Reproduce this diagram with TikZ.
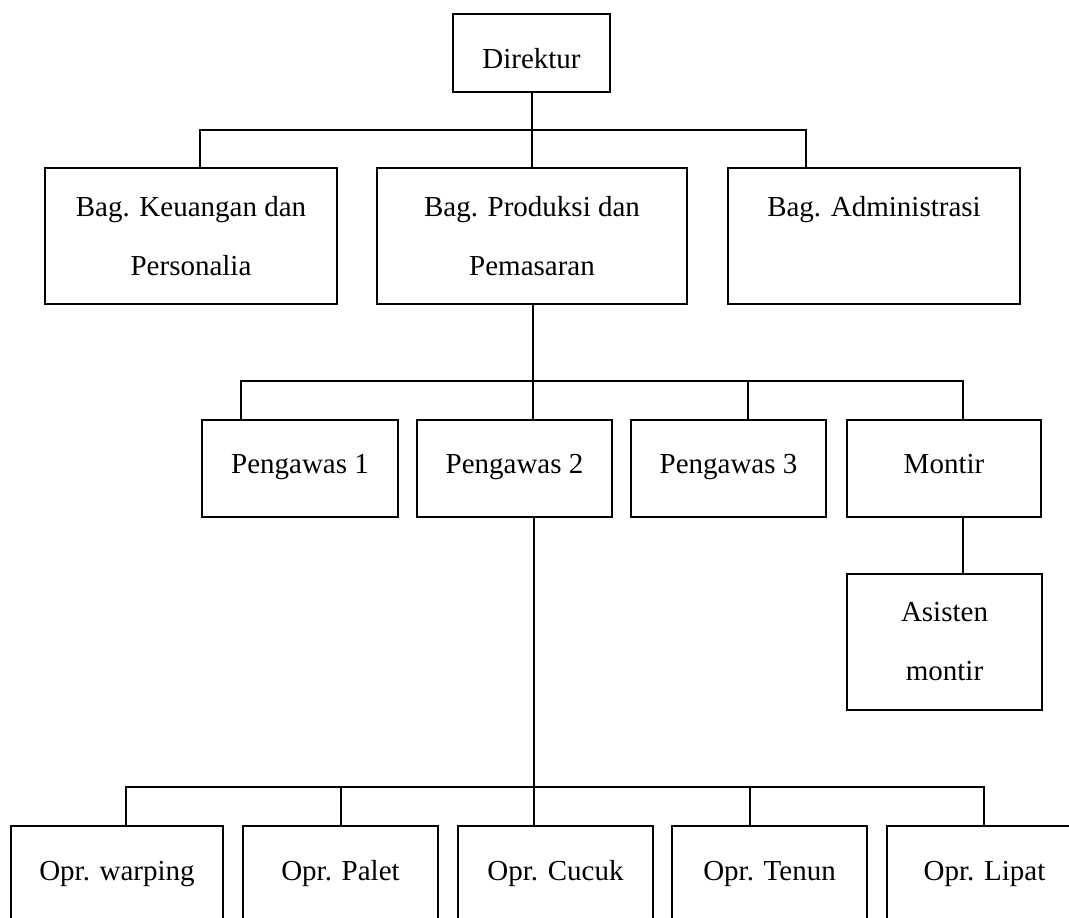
\documentclass[tikz,border=0pt]{standalone}
\usepackage{fontspec}
\setmainfont{Liberation Serif}
\usetikzlibrary{positioning}
\tikzset{
  box/.style={draw, line width=1.5pt, inner sep=0pt, align=center,
    font=\fontsize{29}{59}\selectfont},
  oneline/.style={text height=#1, text depth=7pt},
  conn/.style={line width=1.5pt}
}
\begin{document}
\begin{tikzpicture}[x=1pt,y=-1pt]
\useasboundingbox (0,0) rectangle (1069,918);
\clip (0,0) rectangle (1069,918);
\fill[white] (0,0) rectangle (1069,918);
% level 0
\node[box, oneline=37pt, minimum width=157, minimum height=78] (dir) at (531.5,53) {Direktur};
% level 1
\node[box, minimum width=292, minimum height=136] (keu) at (191,236) {Bag. Keuangan dan\\Personalia};
\node[box, minimum width=310, minimum height=136] (pro) at (532,236) {Bag. Produksi dan\\Pemasaran};
\node[box, minimum width=292, minimum height=136] (adm) at (874,236) {Bag. Administrasi\\\mbox{}};
% level 2
\node[box, oneline=16pt, minimum width=196, minimum height=97] (p1) at (300,468.5) {Pengawas 1};
\node[box, oneline=16pt, minimum width=195, minimum height=97] (p2) at (514.5,468.5) {Pengawas 2};
\node[box, oneline=16pt, minimum width=195, minimum height=97] (p3) at (728.5,468.5) {Pengawas 3};
\node[box, oneline=16pt, minimum width=194, minimum height=97] (mon) at (944,468.5) {Montir};
\node[box, minimum width=195, minimum height=136] (asi) at (944.5,642) {Asisten\\montir};
% level 3
\node[box, oneline=19pt, minimum width=212, minimum height=96] (o1) at (117,874) {Opr. warping};
\node[box, oneline=19pt, minimum width=195, minimum height=96] (o2) at (340.5,874) {Opr. Palet};
\node[box, oneline=19pt, minimum width=195, minimum height=96] (o3) at (555.5,874) {Opr. Cucuk};
\node[box, oneline=19pt, minimum width=195, minimum height=96] (o4) at (769.5,874) {Opr. Tenun};
\node[box, oneline=19pt, minimum width=195, minimum height=96] (o5) at (984.5,874) {Opr. Lipat};
% bus coordinates
\coordinate (b1m) at (532,130);
\coordinate (b1l) at (200,130);
\coordinate (b1r) at (806,130);
\coordinate (b2m) at (533,381);
\coordinate (b2a) at (241,381);
\coordinate (b2c) at (748,381);
\coordinate (b2d) at (963,381);
\coordinate (b3m) at (534,787);
\coordinate (b3a) at (126,787);
\coordinate (b3b) at (341,787);
\coordinate (b3d) at (750,787);
\coordinate (b3e) at (984,787);
% connectors level 1
\draw[conn] (dir.south -| b1m) -- (b1m);
\draw[conn] (keu.north -| b1l) -- (b1l) -- (b1r) -- (adm.north -| b1r);
\draw[conn] (b1m) -- (pro.north -| b1m);
% connectors level 2
\draw[conn] (pro.south -| b2m) -- (b2m);
\draw[conn] (p1.north -| b2a) -- (b2a) -- (b2d) -- (mon.north -| b2d);
\draw[conn] (b2m) -- (p2.north -| b2m);
\draw[conn] (b2c) -- (p3.north -| b2c);
\draw[conn] (mon.south -| b2d) -- (asi.north -| b2d);
% connectors level 3
\draw[conn] (p2.south -| b3m) -- (b3m);
\draw[conn] (o1.north -| b3a) -- (b3a) -- (b3e) -- (o5.north -| b3e);
\draw[conn] (b3b) -- (o2.north -| b3b);
\draw[conn] (b3m) -- (o3.north -| b3m);
\draw[conn] (b3d) -- (o4.north -| b3d);
\end{tikzpicture}
\end{document}
